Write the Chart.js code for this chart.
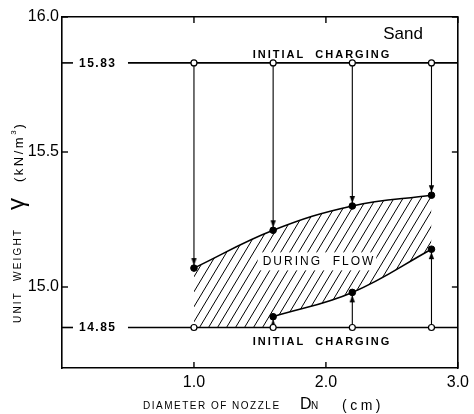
<!DOCTYPE html>
<html>
<head>
<meta charset="utf-8">
<script src="https://cdn.jsdelivr.net/npm/chart.js@4.4.0/dist/chart.umd.min.js"></script>
<style>
  html, body { margin: 0; padding: 0; background: #fff; }
</style>
</head>
<body>
<canvas id="sandChart" width="474" height="414"></canvas>
<script>
// values
const nozzleD = [1.0, 1.6, 2.2, 2.8];
const flowUpper = [15.07, 15.21, 15.30, 15.34];
const lowerD = [1.6, 2.2, 2.8];
const flowLower = [14.89, 14.98, 15.14];
const initialHigh = 15.83;
const initialLow = 14.85;
const xTicks = [1.0, 2.0, 3.0];
const yTicks = [15.0, 15.5, 16.0];

const FONT = '"Liberation Sans", Arial, Helvetica, sans-serif';
const canvas = document.getElementById('sandChart');
const ctx = canvas.getContext('2d');

// diagonal hatch for the "during flow" band
function makeHatch() {
    const c = document.createElement('canvas');
    c.width = 9;
    c.height = 15;
    const g = c.getContext('2d');
    g.strokeStyle = '#000';
    g.lineWidth = 1;
    for (const dx of [-9, 0, 9]) {
        g.beginPath();
        g.moveTo(dx - 1, 15 + 15 / 9);
        g.lineTo(dx + 10, -15 / 9);
        g.stroke();
    }
    return ctx.createPattern(c, 'repeat');
}

// arrow head that sits just above a dot of radius 3
function makeArrow() {
    const c = document.createElement('canvas');
    c.width = 7;
    c.height = 26;
    const g = c.getContext('2d');
    g.fillStyle = '#000';
    g.beginPath();
    g.moveTo(0.8, 3);
    g.lineTo(6.2, 3);
    g.lineTo(3.5, 10);
    g.closePath();
    g.fill();
    return c;
}
const arrowHead = makeArrow();

const pts = (xs, ys) => xs.map((x, i) => ({x: x, y: Array.isArray(ys) ? ys[i] : ys}));

const datasets = [];

// band, hatched down to the lower charging level
datasets.push({
    data: pts(nozzleD, flowUpper), showLine: true,
    borderColor: '#000', borderWidth: 1.6, tension: 0.4, pointRadius: 0,
    fill: {value: initialLow}, backgroundColor: makeHatch(), order: 10
});
// lower curve, masks the hatch underneath it
datasets.push({
    data: pts(lowerD, flowLower), showLine: true,
    borderColor: '#000', borderWidth: 1.6, tension: 0.4, pointRadius: 0,
    fill: {value: initialLow}, backgroundColor: '#fff', order: 9
});
// initial charging levels
for (const level of [initialHigh, initialLow]) {
    datasets.push({
        data: [{x: 0.5, y: level}, {x: 3.0, y: level}], showLine: true,
        borderColor: '#000', borderWidth: 1.6, pointRadius: 0, fill: false, order: 8
    });
}
// arrows down to the upper curve
nozzleD.forEach((d, i) => {
    datasets.push({
        data: [{x: d, y: initialHigh}, {x: d, y: flowUpper[i]}], showLine: true,
        borderColor: '#000', borderWidth: 1.1, fill: false,
        pointRadius: [0, 4], pointStyle: arrowHead, rotation: 0, order: 7
    });
});
// arrows up to the lower curve
lowerD.forEach((d, i) => {
    datasets.push({
        data: [{x: d, y: initialLow}, {x: d, y: flowLower[i]}], showLine: true,
        borderColor: '#000', borderWidth: 1.1, fill: false,
        pointRadius: [0, 4], pointStyle: arrowHead, rotation: 180, order: 7
    });
});
// measured points during flow
datasets.push({
    data: pts(nozzleD, flowUpper),
    pointRadius: 3.3, pointBackgroundColor: '#000', pointBorderColor: '#000', order: 1
});
datasets.push({
    data: pts(lowerD, flowLower),
    pointRadius: 3.3, pointBackgroundColor: '#000', pointBorderColor: '#000', order: 1
});
// open circles on the initial levels
for (const level of [initialHigh, initialLow]) {
    datasets.push({
        data: pts(nozzleD, level),
        pointRadius: 3, pointBackgroundColor: '#fff', pointBorderColor: '#000',
        pointBorderWidth: 1.2, order: 1
    });
}

function drawSpaced(c, text, x, y, font, spacing) {
    c.font = font;
    c.letterSpacing = spacing + 'px';
    c.fillText(text, x, y);
    return c.measureText(text).width;
}

function tick(c, x1, y1, x2, y2) {
    c.beginPath();
    c.moveTo(x1, y1);
    c.lineTo(x2, y2);
    c.stroke();
}

const annotate = {
    id: 'annotate',
    afterDatasetsDraw(chart) {
        const c = chart.ctx;
        const a = chart.chartArea;
        const x = chart.scales.x;
        const y = chart.scales.y;
        c.save();
        c.fillStyle = '#000';
        c.strokeStyle = '#000';

        // inward tick marks on all four sides
        c.lineWidth = 1.4;
        for (const v of xTicks) {
            const px = x.getPixelForValue(v);
            tick(c, px, a.bottom, px, a.bottom - 6);
            tick(c, px, a.top, px, a.top + 6);
        }
        for (const v of yTicks) {
            const py = y.getPixelForValue(v);
            tick(c, a.left, py, a.left + 6, py);
            tick(c, a.right, py, a.right - 6, py);
        }

        // level values next to the axis
        c.textBaseline = 'middle';
        c.textAlign = 'left';
        for (const level of [initialHigh, initialLow]) {
            const py = y.getPixelForValue(level);
            c.lineWidth = 1.6;
            tick(c, a.left, py, a.left + 11, py);
            drawSpaced(c, level.toFixed(2), a.left + 17, py + 0.5, 'bold 12px ' + FONT, 1.5);
        }

        // INITIAL CHARGING labels
        c.textAlign = 'center';
        const cx = x.getPixelForValue(1.97);
        drawSpaced(c, 'INITIAL  CHARGING', cx, y.getPixelForValue(initialHigh) - 8, 'bold 11px ' + FONT, 2);
        drawSpaced(c, 'INITIAL  CHARGING', cx, y.getPixelForValue(initialLow) + 14, 'bold 11px ' + FONT, 2);

        // DURING FLOW on a white patch
        const fx = x.getPixelForValue(1.94);
        const fy = y.getPixelForValue(15.095);
        c.font = '12px ' + FONT;
        c.letterSpacing = '2px';
        const fw = c.measureText('DURING  FLOW').width;
        c.fillStyle = '#fff';
        c.fillRect(fx - fw / 2 - 4, fy - 9, fw + 6, 18);
        c.fillStyle = '#000';
        c.fillText('DURING  FLOW', fx + 1, fy + 0.5);

        // Sand
        c.textAlign = 'right';
        drawSpaced(c, 'Sand', a.right - 35, 34, '17px ' + FONT, 0);

        // x axis title
        c.textAlign = 'left';
        c.textBaseline = 'alphabetic';
        const by = 409;
        drawSpaced(c, 'DIAMETER OF NOZZLE', 143, by, '10px ' + FONT, 1.5);
        drawSpaced(c, 'D', 300, by, '16px ' + FONT, 0);
        drawSpaced(c, 'N', 311, by, '10px ' + FONT, 0);
        drawSpaced(c, '(cm)', 342, by + 1, '14px ' + FONT, 3.5);

        // y axis title, rotated
        c.translate(18, 323);
        c.rotate(-Math.PI / 2);
        c.textBaseline = 'middle';
        drawSpaced(c, 'UNIT  WEIGHT', 0, 0, '10px ' + FONT, 2.2);
        drawSpaced(c, 'γ', 113, -1, '24px ' + FONT, 0);
        const w1 = drawSpaced(c, '(kN/m', 141, 1, '13px ' + FONT, 2.5);
        const w2 = drawSpaced(c, '3', 141 + w1, -4, '8px ' + FONT, 0);
        drawSpaced(c, ')', 141 + w1 + w2 + 2, 1, '13px ' + FONT, 0);
        c.restore();
    }
};

const axisBorder = {display: true, color: '#000', width: 1.6};
const noGrid = {display: false, drawOnChartArea: false, drawTicks: false};

new Chart(ctx, {
    type: 'scatter',
    data: {datasets: datasets},
    options: {
        responsive: false,
        animation: false,
        events: [],
        layout: {padding: 0},
        plugins: {
            legend: {display: false},
            tooltip: {enabled: false}
        },
        scales: {
            x: {
                type: 'linear', position: 'bottom', min: 0, max: 3,
                afterBuildTicks: s => { s.ticks = xTicks.map(v => ({value: v})); },
                afterFit: s => { s.height = 46; },
                grid: noGrid,
                border: axisBorder,
                ticks: {
                    color: '#000', padding: 5, maxRotation: 0, autoSkip: false,
                    font: {family: FONT, size: 16},
                    callback: v => v.toFixed(1)
                }
            },
            x2: {
                type: 'linear', position: 'top', min: 0, max: 3,
                afterFit: s => { s.height = 17; },
                grid: noGrid,
                border: axisBorder,
                ticks: {display: false}
            },
            y: {
                type: 'linear', position: 'left', min: 14.7, max: 16.0,
                afterBuildTicks: s => { s.ticks = yTicks.map(v => ({value: v})); },
                afterFit: s => { s.width = 62; },
                grid: noGrid,
                border: axisBorder,
                ticks: {
                    color: '#000', padding: 3,
                    font: {family: FONT, size: 16},
                    callback: v => v.toFixed(1)
                }
            },
            y2: {
                type: 'linear', position: 'right', min: 14.7, max: 16.0,
                afterFit: s => { s.width = 12; },
                grid: noGrid,
                border: axisBorder,
                ticks: {display: false}
            }
        }
    },
    plugins: [annotate]
});
</script>
</body>
</html>
